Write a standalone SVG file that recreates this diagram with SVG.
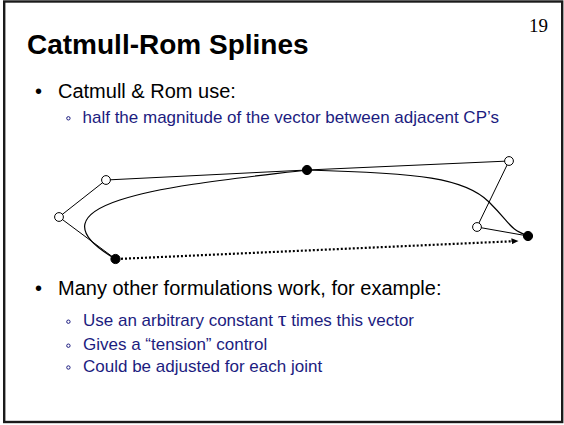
<svg xmlns="http://www.w3.org/2000/svg" width="564" height="425" viewBox="0 0 564 425">
<style>
.frame{fill:#fff;stroke:#1a1a1a;stroke-width:2.4}
.title{font-family:"Liberation Sans",Arial,sans-serif;font-weight:bold;font-size:28px;fill:#000}
.num{font-family:"Liberation Serif","Times New Roman",serif;font-size:19px;fill:#000;text-anchor:end}
.b1{font-family:"Liberation Sans",Arial,sans-serif;font-size:20px;fill:#000}
.b2{font-family:"Liberation Sans",Arial,sans-serif;font-size:17px;fill:#1c1c80}
.sb{fill:none;stroke:#1c1c80;stroke-width:1}
.tan{fill:none;stroke:#000;stroke-width:1}
.curve{fill:none;stroke:#000;stroke-width:1.2}
.dots{fill:none;stroke:#000;stroke-width:2.2;stroke-dasharray:2 2}
.open{fill:#fff;stroke:#000;stroke-width:1}
.solid{fill:#000;stroke:#000;stroke-width:1}
</style>
<defs>
<marker id="ah" markerWidth="8" markerHeight="6" refX="0.5" refY="3" orient="auto" markerUnits="userSpaceOnUse">
<path d="M0,0 L7,3 L0,6 Z" fill="#000"/>
</marker>
</defs>
<rect class="frame" x="4.2" y="1.5" width="558" height="420.5"/>
<text class="num" x="548" y="32">19</text>
<text class="title" x="27" y="54">Catmull-Rom Splines</text>
<text class="b1" x="35" y="98">•</text>
<text class="b1" x="58" y="98">Catmull &amp; Rom use:</text>
<circle class="sb" cx="68.4" cy="118.3" r="1.7"/>
<text class="b2" x="82.5" y="122.5">half the magnitude of the vector between adjacent CP’s</text>
<text class="b1" x="35" y="295">•</text>
<text class="b1" x="58" y="295">Many other formulations work, for example:</text>
<circle class="sb" cx="68.4" cy="321.7" r="1.7"/>
<text class="b2" x="83" y="326">Use an arbitrary constant <tspan font-family="Liberation Serif,'Times New Roman',serif" font-size="22">τ</tspan> times this vector</text>
<circle class="sb" cx="68.4" cy="345.7" r="1.7"/>
<text class="b2" x="83" y="350">Gives a “tension” control</text>
<circle class="sb" cx="68.4" cy="367.5" r="1.7"/>
<text class="b2" x="83" y="372">Could be adjusted for each joint</text>
<g id="connectors">
<line class="tan" x1="115.5" y1="259" x2="59" y2="217"/>
<line class="tan" x1="59" y1="217" x2="106" y2="180"/>
<line class="tan" x1="106" y1="180" x2="307" y2="170"/>
<line class="tan" x1="307" y1="170" x2="509" y2="161"/>
<line class="tan" x1="509" y1="161" x2="477" y2="227"/>
<line class="tan" x1="477" y1="227" x2="528" y2="236"/>
<path class="curve" d="M115.5,259 C10,198 200,183 307,170 C420,173 465,178 489,202 S508,228 528,236"/>
<line class="dots" x1="121" y1="258.8" x2="512" y2="241.3" marker-end="url(#ah)"/>
</g>
<g id="p0"><circle class="solid" cx="115.5" cy="259" r="4.6"/></g>
<g id="p0-out"><circle class="open" cx="59" cy="217" r="4.4"/></g>
<g id="p1-in"><circle class="open" cx="106" cy="180" r="4.4"/></g>
<g id="p1"><circle class="solid" cx="307" cy="170" r="4.6"/></g>
<g id="p1-out"><circle class="open" cx="509" cy="161" r="4.4"/></g>
<g id="p2-in"><circle class="open" cx="477" cy="227" r="4.4"/></g>
<g id="p2"><circle class="solid" cx="528" cy="236" r="4.6"/></g>
</svg>
